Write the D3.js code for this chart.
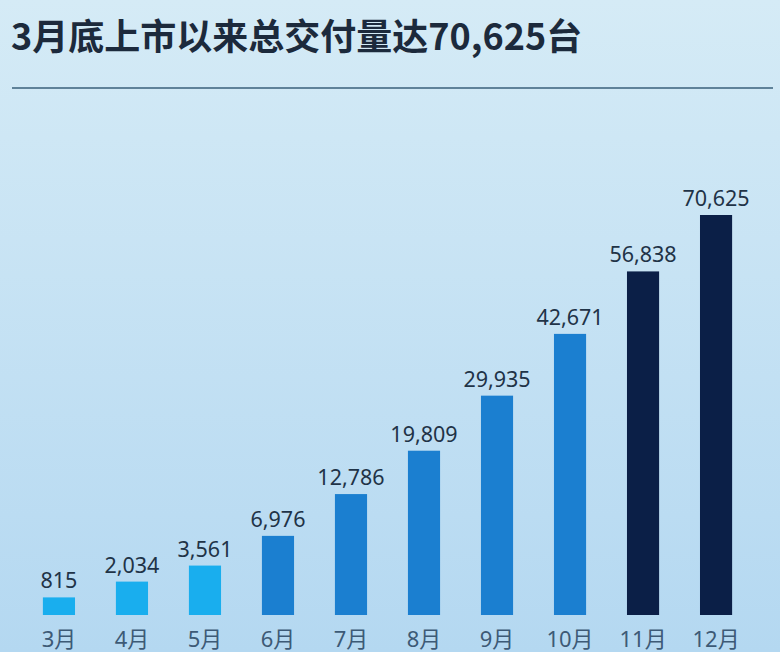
<!DOCTYPE html>
<html>
<head>
<meta charset="utf-8">
<script src="https://cdn.jsdelivr.net/npm/d3@7"></script>
<style>
  html, body { margin: 0; padding: 0; }
  body { width: 780px; height: 652px; overflow: hidden; }
</style>
</head>
<body>
<div id="chart"></div>
<script>
// Chart data
const title = '3月底上市以来总交付量达70,625台'
const months = ['3月', '4月', '5月', '6月', '7月', '8月', '9月', '10月', '11月', '12月']
const deliveries = [815, 2034, 3561, 6976, 12786, 19809, 29935, 42671, 56838, 70625]

// Canvas
const width = 780,
  height = 652,
  baseline = 615,
  barTop = 215

let svg = d3.select('#chart')
  .append('svg')
  .attr('width', width)
  .attr('height', height)

// background gradient
let grad = svg.append('defs')
  .append('linearGradient')
  .attr('id', 'bg')
  .attr('x1', 0).attr('y1', 0)
  .attr('x2', 0).attr('y2', 1)
grad.append('stop').attr('offset', '0%').attr('stop-color', '#d5ebf6')
grad.append('stop').attr('offset', '100%').attr('stop-color', '#b4d8f1')

svg.append('rect')
  .attr('width', width)
  .attr('height', height)
  .attr('fill', 'url(#bg)')

// title + rule
svg.append('text')
  .attr('x', 11)
  .attr('y', 50)
  .attr('font-family', '"Noto Sans CJK SC", sans-serif')
  .attr('font-weight', 700)
  .attr('font-size', 36)
  .attr('fill', '#1c2a3c')
  .text(title)

svg.append('line')
  .attr('x1', 12)
  .attr('x2', 773)
  .attr('y1', 88)
  .attr('y2', 88)
  .attr('stroke', '#5f8299')
  .attr('stroke-width', 2)

// scales
let xScale = d3.scaleBand()
  .domain(months)
  .range([2, 773])
  .padding(0.56)

// the source picture is not drawn to a linear scale, a power scale fits it
let yScale = d3.scalePow()
  .exponent(0.7)
  .domain([0, d3.max(deliveries)])
  .range([baseline, barTop])

let colorScale = d3.scaleThreshold()
  .domain([3, 8])
  .range(['#19aeee', '#1b7fd0', '#0b1f47'])

let fmt = d3.format(',')

// bars
svg.selectAll('rect.bar')
  .data(deliveries)
  .enter()
  .append('rect')
  .attr('class', 'bar')
  .attr('x', (d, i) => xScale(months[i]))
  .attr('y', d => yScale(d))
  .attr('width', xScale.bandwidth())
  .attr('height', d => baseline - yScale(d))
  .attr('fill', (d, i) => colorScale(i))

// value labels
svg.selectAll('text.value')
  .data(deliveries)
  .enter()
  .append('text')
  .attr('class', 'value')
  .attr('x', (d, i) => xScale(months[i]) + xScale.bandwidth() / 2)
  .attr('y', d => yScale(d) - 9)
  .attr('text-anchor', 'middle')
  .attr('font-family', '"Noto Sans", sans-serif')
  .attr('font-size', 21.5)
  .attr('fill', '#1f3347')
  .text(d => fmt(d))

// month axis
let axis = svg.append('g')
  .attr('transform', `translate(0, ${baseline})`)
  .call(d3.axisBottom(xScale).tickSize(0).tickPadding(16))

axis.select('.domain').remove()
axis.selectAll('text')
  .attr('font-family', '"Noto Sans", "Noto Sans CJK SC", sans-serif')
  .attr('font-size', 22)
  .attr('fill', '#3d5a76')
</script>
</body>
</html>
